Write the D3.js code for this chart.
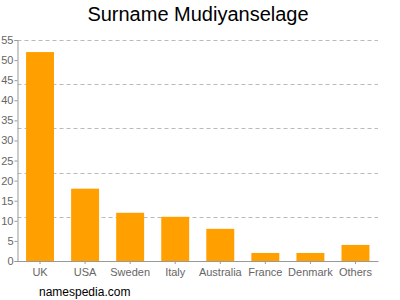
<!DOCTYPE html>
<html>
<head>
<meta charset="utf-8">
<script src="https://cdn.jsdelivr.net/npm/d3@7"></script>
<style>
  body { margin: 0; background: #fff; }
  text { font-family: "Liberation Sans", Arial, sans-serif; }
</style>
</head>
<body>
<svg id="chart" width="400" height="300"></svg>
<script>
const countries = ["UK", "USA", "Sweden", "Italy", "Australia", "France", "Denmark", "Others"];
const counts = [52, 18, 12, 11, 8, 2, 2, 4];
const yTicks = [0, 5, 10, 15, 20, 25, 30, 35, 40, 45, 50, 55];
const gridValues = [11, 22, 33, 44, 55];

const svg = d3.select("#chart");
const margin = { top: 40, right: 22, bottom: 39, left: 17.5 };
const width = 400 - margin.left - margin.right;
const height = 300 - margin.top - margin.bottom;

const x = d3.scaleBand()
    .domain(countries)
    .range([margin.left, margin.left + width])
    .paddingInner(0.38)
    .paddingOuter(0.19);

const y = d3.scaleLinear()
    .domain([0, 55])
    .range([margin.top + height, margin.top]);

// dashed gridlines
svg.append("g")
    .selectAll("line")
    .data(gridValues)
    .enter()
    .append("line")
    .attr("x1", margin.left)
    .attr("x2", margin.left + width)
    .attr("y1", (d) => Math.round(y(d)) + 0.5)
    .attr("y2", (d) => Math.round(y(d)) + 0.5)
    .attr("stroke", "#bbb")
    .attr("stroke-dasharray", "4,3");

// bars
svg.append("g")
    .selectAll("rect")
    .data(countries)
    .enter()
    .append("rect")
    .attr("x", (d) => x(d))
    .attr("y", (d, i) => y(counts[i]))
    .attr("width", x.bandwidth())
    .attr("height", (d, i) => y(0) - y(counts[i]))
    .attr("fill", "#ffa000");

// y axis
const yAxis = svg.append("g")
    .attr("transform", "translate(" + margin.left + ",0)")
    .call(d3.axisLeft(y).tickValues(yTicks).tickSize(3).tickPadding(1));
yAxis.select(".domain").attr("stroke", "#999");
yAxis.selectAll(".tick line").attr("stroke", "#999");
yAxis.selectAll("text").attr("fill", "#666").style("font-size", "11px");

// x axis
const xAxis = svg.append("g")
    .attr("transform", "translate(0," + (margin.top + height) + ")")
    .call(d3.axisBottom(x).tickSize(3).tickPadding(4).tickSizeOuter(0));
xAxis.select(".domain").attr("stroke", "#999");
xAxis.selectAll(".tick line").attr("stroke", "#999");
xAxis.selectAll("text").attr("fill", "#666").style("font-size", "11px");

// title
svg.append("text")
    .attr("x", 198)
    .attr("y", 21)
    .attr("text-anchor", "middle")
    .style("font-size", "20px")
    .attr("fill", "#000")
    .text("Surname Mudiyanselage");

// source
svg.append("text")
    .attr("x", 39)
    .attr("y", 296)
    .style("font-size", "12px")
    .attr("fill", "#000")
    .text("namespedia.com");
</script>
</body>
</html>
